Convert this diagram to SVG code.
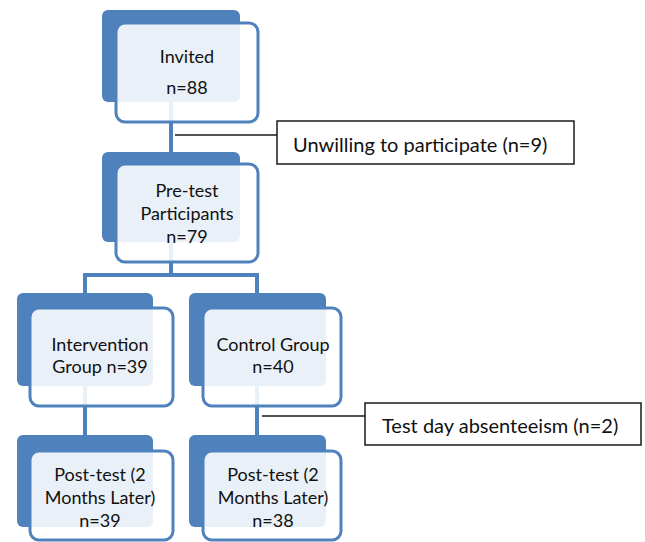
<svg xmlns="http://www.w3.org/2000/svg" width="645" height="542" viewBox="0 0 645 542">
<style>
.back{fill:#4F81BD}
.front{fill:#ffffff;fill-opacity:0.88;stroke:#4F81BD;stroke-width:3}
.conn{stroke:#4F81BD;stroke-width:4;fill:none}
.bline{stroke:#1a1a1a;stroke-width:1.5;fill:none}
.side{fill:#ffffff;stroke:#1a1a1a;stroke-width:1.5}
text{font-family:Lato,"Liberation Sans",sans-serif;font-size:18px;fill:#111}
.s{font-size:20px}
.c{text-anchor:middle}
</style>
<rect width="645" height="542" fill="#ffffff"/>
<g id="connectors">
<line class="conn" x1="171" y1="102" x2="171" y2="153"/>
<line class="conn" x1="171" y1="242" x2="171" y2="275"/>
<line class="conn" x1="83" y1="275" x2="259" y2="275"/>
<line class="conn" x1="85" y1="275" x2="85" y2="294"/>
<line class="conn" x1="257" y1="275" x2="257" y2="294"/>
<line class="conn" x1="85" y1="386" x2="85" y2="436"/>
<line class="conn" x1="257" y1="386" x2="257" y2="436"/>
<line class="bline" x1="175" y1="135" x2="277" y2="135"/>
<line class="bline" x1="262" y1="416" x2="365" y2="416"/>
</g>
<g id="invited">
<rect class="back" x="102" y="10" width="138" height="92" rx="6"/>
<rect class="front" x="116" y="23" width="142" height="99" rx="9"/>
<text class="c" x="187" y="63">Invited</text>
<text class="c" x="187" y="94">n=88</text>
</g>
<g id="unwilling">
<rect class="side" x="277" y="121" width="297" height="43"/>
<text class="s" x="293" y="152">Unwilling to participate (n=9)</text>
</g>
<g id="pretest">
<rect class="back" x="102" y="152" width="138" height="90" rx="6"/>
<rect class="front" x="116" y="164" width="142" height="98" rx="9"/>
<text class="c" x="187" y="197">Pre-test</text>
<text class="c" x="187" y="220">Participants</text>
<text class="c" x="187" y="243">n=79</text>
</g>
<g id="intervention">
<rect class="back" x="17" y="293" width="136" height="93" rx="6"/>
<rect class="front" x="30" y="308" width="143" height="98" rx="9"/>
<text class="c" x="100" y="351">Intervention</text>
<text class="c" x="100" y="373">Group n=39</text>
</g>
<g id="control">
<rect class="back" x="189" y="293" width="137" height="93" rx="6"/>
<rect class="front" x="203" y="308" width="138" height="98" rx="9"/>
<text class="c" x="273" y="351">Control Group</text>
<text class="c" x="273" y="373">n=40</text>
</g>
<g id="absenteeism">
<rect class="side" x="365" y="403" width="276" height="42"/>
<text class="s" x="382" y="433">Test day absenteeism (n=2)</text>
</g>
<g id="posttest-intervention">
<rect class="back" x="17" y="435" width="136" height="92" rx="6"/>
<rect class="front" x="30" y="451" width="143" height="89" rx="9"/>
<text class="c" x="100" y="481">Post-test (2</text>
<text class="c" x="100" y="504">Months Later)</text>
<text class="c" x="100" y="527">n=39</text>
</g>
<g id="posttest-control">
<rect class="back" x="189" y="435" width="137" height="92" rx="6"/>
<rect class="front" x="203" y="451" width="138" height="89" rx="9"/>
<text class="c" x="273" y="481">Post-test (2</text>
<text class="c" x="273" y="504">Months Later)</text>
<text class="c" x="273" y="527">n=38</text>
</g>
</svg>
